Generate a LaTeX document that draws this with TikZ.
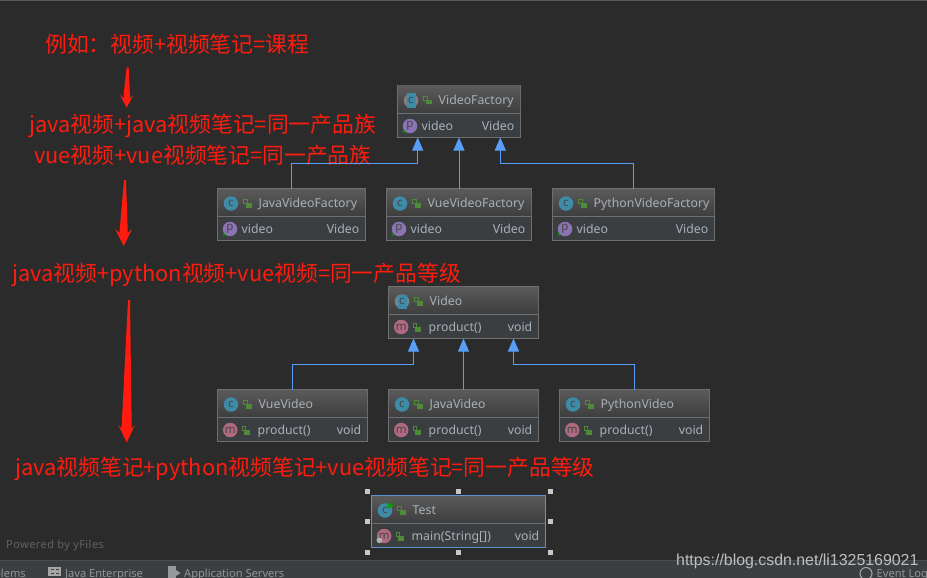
\documentclass[tikz,border=0pt]{standalone}
\usepackage{fontspec}
\setmainfont{Noto Sans}
\newfontfamily\cjkfont{Noto Sans CJK SC}
\newfontfamily\urlfont{Liberation Sans}
\usetikzlibrary{arrows.meta,calc}
\definecolor{canvasbg}{HTML}{2B2B2B}
\definecolor{barbg}{HTML}{3C3F41}
\definecolor{boxbody}{HTML}{3A3E41}
\definecolor{boxedge}{HTML}{6F6F6F}
\definecolor{headtop}{HTML}{5A5A5A}
\definecolor{headbottom}{HTML}{3D3D3D}
\definecolor{labelgray}{HTML}{A9B0B8}
\definecolor{inherit}{HTML}{589DF6}
\definecolor{selectedge}{HTML}{5E93D0}
\definecolor{notered}{HTML}{FF1C0E}
\definecolor{lockgreen}{HTML}{4E8A3A}
\definecolor{iconc}{HTML}{3E8BA8}
\definecolor{iconp}{HTML}{8C73B3}
\definecolor{iconm}{HTML}{B0697F}
\tikzset{
  classbox/.style={draw=boxedge,line width=1pt,fill=boxbody,anchor=north west,minimum height=52pt,inner sep=0pt,outer sep=0pt},
  boxlabel/.style={text=labelgray,font=\fontsize{12.3}{13}\selectfont,inner sep=0pt,anchor=base},
  iconmark/.style={circle,minimum size=14.5pt,inner sep=0pt,text=black!72,font=\fontsize{11.5}{11.5}\selectfont},
  rednote/.style={text=notered,font=\cjkfont\fontsize{21.8}{22}\selectfont,inner sep=0pt,anchor=base west},
  redmark/.style={fill=notered},
  extends/.style={draw=inherit,line width=1pt,-{Triangle[width=11pt,length=13pt,fill=inherit]}},
  handle/.style={fill=black!22,minimum size=5pt,inner sep=0pt},
  barlabel/.style={text=black!15!labelgray,font=\fontsize{11.1}{12}\selectfont,inner sep=0pt,anchor=base west},
}
% class box: name, top left corner, width, title
\newcommand{\classbox}[4]{
  \node[classbox,minimum width=#3pt] (#1) at (#2) {};
  \shade[top color=headtop,bottom color=headbottom] ($(#1.north west)+(.5,.5)$) rectangle ($(#1.north east)+(-.5,28)$);
  \draw[boxedge] ($(#1.north west)+(0,28)$) -- ($(#1.north east)+(0,28)$);
  \drawlock{#1.north west}{30}{15}
  \node[boxlabel,anchor=base west] (#1title) at ($(#1.north west)+(41,19)$) {#4};
}
\newcommand{\drawlock}[3]{
  \draw[lockgreen,line width=.9pt] ($(#1)+(#2-3.6,#3-.5)$) rectangle ($(#1)+(#2-.5,#3-3.8)$);
  \fill[lockgreen] ($(#1)+(#2-2,#3-.5)$) rectangle ($(#1)+(#2+4,#3+4)$);
}
\newcommand{\classicon}[1]{
  \node[iconmark,fill=iconc] (#1icon) at ($(#1.north west)+(13.5,15)$) {c};
}
\newcommand{\abstracticon}[1]{
  \node[iconmark,fill=black!50] (#1icon) at ($(#1.north west)+(13.5,15)$) {};
  \fill[iconc] ($(#1icon)+(-4.5,-7)$) rectangle ($(#1icon)+(4.5,7)$);
  \node[inner sep=0pt,text=black!72,font=\fontsize{11.5}{11.5}\selectfont] (#1letter) at (#1icon) {c};
}
% second row of a box
\newcommand{\fieldrow}[3]{
  \node[iconmark,fill=iconp] (#1mark) at ($(#1.north west)+(12.5,40.5)$) {p};
  \fill[green!60!black] ($(#1mark)+(-6,5.5)$) circle (1.5pt);
  \node[boxlabel,anchor=base west] (#1member) at ($(#1.north west)+(24,45)$) {#2};
  \node[boxlabel,anchor=base east] (#1type) at ($(#1.north east)+(-6,45)$) {#3};
}
\newcommand{\methodrow}[3]{
  \node[iconmark,fill=iconm] (#1mark) at ($(#1.north west)+(12.7,40.5)$) {m};
  \drawlock{#1.north west}{28.7}{41}
  \node[boxlabel,anchor=base west] (#1member) at ($(#1.north west)+(40,45)$) {#2};
  \node[boxlabel,anchor=base east] (#1type) at ($(#1.north east)+(-6,45)$) {#3};
}
% hand drawn red arrow: tail, tip, half width of head, length of head, half width of shaft
\newcommand{\redarrow}[5]{
  \fill[redmark] ($(#1)+(-1,0)$) -- ($(#1)+(1,0)$) -- ($(#2)+(#5,-#4-1)$) -- ($(#2)+(#5,-#4+2)$) -- ($(#2)+(#3,-#4-2)$) -- (#2) -- ($(#2)+(-#3,-#4-2)$) -- ($(#2)+(-#5,-#4+2)$) -- ($(#2)+(-#5,-#4-1)$) -- cycle;
}
\begin{document}
\begin{tikzpicture}[x=1pt,y=-1pt]
  \clip (0,0) rectangle (927,578);
  \fill[canvasbg] (0,0) rectangle (927,578);
  \draw[black!65,line width=1.5pt] (0,.75) -- (927,.75);
  % bottom bar
  \fill[barbg] (0,560) rectangle (927,578);
  \draw[black!70,line width=1pt] (0,560) -- (927,560);
  % notes on the left
  \node[rednote] (noteA) at (45,52.5) {例如：视频+视频笔记=课程};
  \node[rednote] (noteB) at (29,132) {java视频+java视频笔记=同一产品族};
  \node[rednote] (noteC) at (34,163) {vue视频+vue视频笔记=同一产品族};
  \node[rednote] (noteD) at (12,281) {java视频+python视频+vue视频=同一产品等级};
  \node[rednote] (noteE) at (15,475) {java视频笔记+python视频笔记+vue视频笔记=同一产品等级};
  \coordinate (tailA) at (127.7,67.5);
  \coordinate (tipA) at (126.7,107.5);
  \coordinate (tailB) at (125,180);
  \coordinate (tipB) at (123.7,246);
  \coordinate (tailC) at (129,300);
  \coordinate (tipC) at (126.7,442.5);
  \redarrow{tailA}{tipA}{7}{11}{3.2}
  \redarrow{tailB}{tipB}{8.5}{15}{4}
  \redarrow{tailC}{tipC}{8.5}{16}{5}
  % factory classes
  \classbox{videoFactory}{397.5,85.5}{123}{VideoFactory}
  \abstracticon{videoFactory}
  \fieldrow{videoFactory}{video}{Video}
  \classbox{javaFactory}{217.5,188.5}{148}{JavaVideoFactory}
  \classicon{javaFactory}
  \fieldrow{javaFactory}{video}{Video}
  \classbox{vueFactory}{386.5,188.5}{145}{VueVideoFactory}
  \classicon{vueFactory}
  \fieldrow{vueFactory}{video}{Video}
  \classbox{pythonFactory}{552.5,188.5}{162}{PythonVideoFactory}
  \classicon{pythonFactory}
  \fieldrow{pythonFactory}{video}{Video}
  \draw[extends] (javaFactory.north) -- ++(0,-25) -| ($(videoFactory.south)+(-41.3,0)$);
  \draw[extends] (vueFactory.north) -- (vueFactory.north |- videoFactory.south);
  \draw[extends] (pythonFactory.north) -- ++(0,-25) -| ($(videoFactory.south)+(41.3,0)$);
  % product classes
  \classbox{video}{388.5,286.5}{150}{Video}
  \abstracticon{video}
  \methodrow{video}{product()}{void}
  \classbox{vueVideo}{217.5,389.5}{150}{VueVideo}
  \classicon{vueVideo}
  \methodrow{vueVideo}{product()}{void}
  \classbox{javaVideo}{388.5,389.5}{150}{JavaVideo}
  \classicon{javaVideo}
  \methodrow{javaVideo}{product()}{void}
  \classbox{pythonVideo}{559.5,389.5}{150}{PythonVideo}
  \classicon{pythonVideo}
  \methodrow{pythonVideo}{product()}{void}
  \draw[extends] (vueVideo.north) -- ++(0,-25) -| ($(video.south)+(-50,0)$);
  \draw[extends] (javaVideo.north) -- (video.south);
  \draw[extends] (pythonVideo.north) -- ++(0,-25) -| ($(video.south)+(50,0)$);
  % selected class
  \classbox{test}{371.5,495.5}{174}{Test}
  \draw[selectedge,line width=1pt] (test.north west) rectangle (test.south east);
  \classicon{test}
  \fill[green!65!black] ($(test.north west)+(16,6.5)$) -- ($(test.north west)+(22,10)$) -- ($(test.north west)+(16,13.5)$) -- cycle;
  \methodrow{test}{main(String[])}{void}
  \fill[black!30] ($(test.north west)+(7.8,44.8)$) circle (2.8pt);
  \foreach \hx/\hy [count=\hi] in {367.3/491.3,458.7/491.3,550.3/491.3,367.3/521.7,550.3/521.7,367.3/552.3,458.7/552.3,550.3/552.3}
    \node[handle] (handle\hi) at (\hx,\hy) {};
  % captions
  \node[barlabel,text=black!62,font=\fontsize{11}{12}\selectfont,anchor=base west] (powered) at (6,548) {\addfontfeature{LetterSpace=4}Powered by yFiles};
  \node[barlabel,anchor=base east] (problems) at (26,577) {Problems};
  \fill[black!35] (48,567) rectangle (61,576);
  \draw[barbg,line width=1pt] (50.5,569.5) -- (53.5,569.5) (50.5,573.5) -- (53.5,573.5) (55.5,569.5) -- (58.5,569.5) (55.5,573.5) -- (58.5,573.5);
  \node[barlabel] (javaEnterprise) at (65,577) {Java Enterprise};
  \fill[black!40] (168,566) rectangle (176,578);
  \fill[black!40] (176,570) -- (180.5,573) -- (176,576) -- cycle;
  \node[barlabel] (appServers) at (184,577) {Application Servers};
  \draw[black!35,line width=1pt] (866,573.5) circle (6pt);
  \node[barlabel] (eventLog) at (876.5,577) {Event Log};
  \node[text=black!25,font=\urlfont\fontsize{15.9}{17}\selectfont,inner sep=0pt,anchor=base west] (blogUrl) at (676,565) {https://blog.csdn.net/li1325169021};
\end{tikzpicture}
\end{document}
